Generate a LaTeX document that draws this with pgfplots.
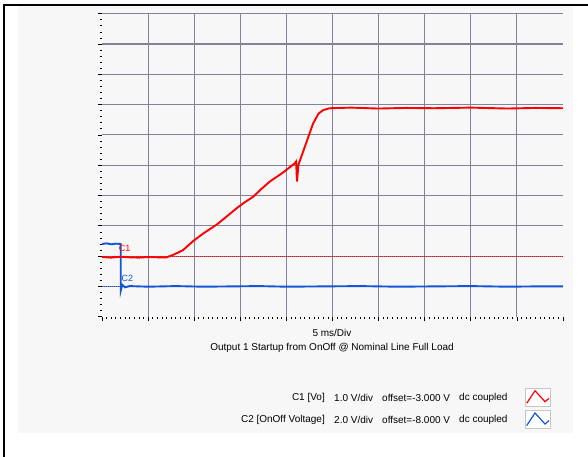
\documentclass[border=0pt]{standalone}
\usepackage{pgfplots}
\pgfplotsset{compat=1.18}
\usepackage{fontspec}
\setmainfont{Liberation Sans}
\definecolor{gridc}{RGB}{130,130,152}
\definecolor{trred}{RGB}{255,0,0}
\definecolor{trblue}{RGB}{20,85,215}
\definecolor{panel}{RGB}{247,247,247}
\newcommand{\txt}{\fontsize{10}{12}\selectfont}

\begin{document}
\begin{tikzpicture}
\begin{scope}[x=1pt,y=1pt]
\useasboundingbox (0,0) rectangle (588,457);
\fill[white] (0,0) rectangle (588,457);
\fill[panel] (18,24) rectangle (573,451);
\draw[line width=2.5pt] (4,0) -- (4,452) -- (588,452);
\end{scope}

\begin{axis}[
    at={(102pt,140.3pt)}, anchor=south west,
    width=461pt, height=303pt, scale only axis,
    xmin=0, xmax=50, ymin=0, ymax=10,
    axis line style={draw=none},
    xtick={5,10,...,45}, ytick={1,2,...,10},
    extra x ticks={0,50}, extra y ticks={0},
    extra tick style={grid=none},
    xticklabels={}, yticklabels={},
    extra x tick labels={}, extra y tick labels={},
    minor xtick={0,0.5,...,50}, minor ytick={0,0.2,...,10},
    tick pos=left, tick align=outside,
    major tick length=4.5pt, minor tick length=2.5pt,
    grid=major,
    major grid style={gridc, line width=1.1pt},
    tick style={black, line width=0.7pt},
    clip=false,
]
% ground markers
\addplot[trred, densely dotted, line width=1pt] coordinates {(0,1.99) (50,1.99)};
\addplot[trblue, densely dotted, line width=1pt] coordinates {(0,1.0) (50,1.0)};

% C2 [OnOff Voltage]
\addplot[trblue, line width=1.9pt] coordinates {
(0,2.40) (0.5,2.42) (1,2.39) (1.5,2.41) (2.03,2.40) (2.03,0.85)
(2.2,1.05) (2.5,0.97) (3,1.01) (5,0.99) (8,1.01) (11,0.99) (14,1.00)
(17,1.01) (20,0.99) (24,1.00) (28,1.01) (32,0.99) (36,1.00) (40,1.01)
(44,0.99) (47,1.00) (50,1.00)
};

% C1 [Vo]
\addplot[trred, line width=1.9pt] coordinates {
(0,1.97) (1,1.95) (2,1.98) (3,1.96) (4,1.95) (5,1.97) (6,1.96) (7.0,1.96)
(7.8,2.05) (8.8,2.20) (9.9,2.50) (11,2.75) (12.4,3.03) (13.5,3.30)
(14.6,3.58) (15.5,3.78) (16.4,3.96) (17.3,4.22) (18.2,4.46) (19.6,4.75)
(20.9,5.06) (21.05,5.12) (21.15,4.46) (21.3,5.01) (22.2,5.78) (22.9,6.38)
(23.5,6.71) (24.0,6.82) (24.7,6.88) (27,6.90) (30,6.87) (33,6.89)
(36,6.88) (40,6.90) (44,6.87) (47,6.89) (50,6.88)
};

\node[anchor=west, trred, inner sep=0, font=\fontsize{9}{9}\selectfont] at (axis cs:1.8,2.25) {C1};
\node[anchor=west, trblue, inner sep=0, font=\fontsize{9}{9}\selectfont] at (axis cs:2.1,1.26) {C2};
\end{axis}

\begin{scope}[x=1pt,y=1pt]
\node[font=\txt, inner sep=0] at (332,123.7) {5 ms/Div};
\node[font=\txt, inner sep=0] at (332,108.7) {Output 1 Startup from OnOff @ Nominal Line Full Load};

\node[font=\txt, inner sep=0, anchor=east] at (325,58.7) {C1 [Vo]};
\node[font=\txt, inner sep=0, anchor=west] at (334,58.7) {1.0 V/div};
\node[font=\txt, inner sep=0, anchor=west] at (382,58.7) {offset=-3.000 V};
\node[font=\txt, inner sep=0, anchor=west] at (459,58.7) {dc coupled};

\node[font=\txt, inner sep=0, anchor=east] at (325,37) {C2 [OnOff Voltage]};
\node[font=\txt, inner sep=0, anchor=west] at (334,37) {2.0 V/div};
\node[font=\txt, inner sep=0, anchor=west] at (382,37) {offset=-8.000 V};
\node[font=\txt, inner sep=0, anchor=west] at (459,37) {dc coupled};

\draw[gray!45, fill=white, line width=0.8pt] (525,51) rectangle (550,68.7);
\draw[trred, line width=1.2pt] (526.7,53.7) -- (535,66.3) -- (545,55.3) -- (549,58.7);
\draw[gray!45, fill=white, line width=0.8pt] (525,28.7) rectangle (550,46.3);
\draw[trblue, line width=1.2pt] (526.7,31.4) -- (535,44) -- (545,33) -- (549,36.4);
\end{scope}
\end{tikzpicture}
\end{document}
